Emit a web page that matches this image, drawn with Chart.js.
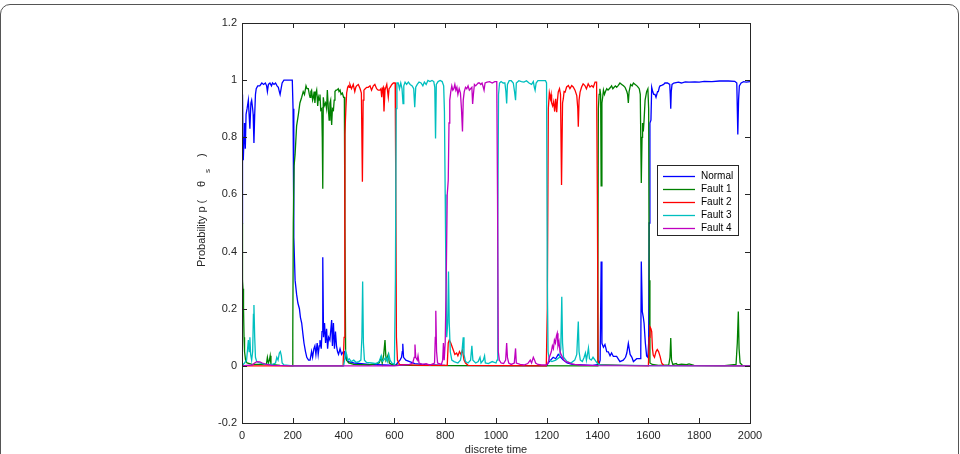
<!DOCTYPE html>
<html>
<head>
<meta charset="utf-8">
<script src="https://cdn.jsdelivr.net/npm/chart.js@4"></script>
<style>
  html, body { margin: 0; padding: 0; background: #fff; }
  #wrap { position: relative; width: 960px; height: 454px; overflow: hidden; }
  #frame { position: absolute; left: 0; top: 4px; width: 957px; height: 480px; border: 1.5px solid #555; border-radius: 10px; }
  canvas { position: absolute; left: 0; top: 0; }
</style>
</head>
<body>
<div id="wrap">
  <div id="frame"></div>
  <canvas id="probChart" width="960" height="454"></canvas>
</div>
<script>
// tick values
const xTicks = [0, 200, 400, 600, 800, 1000, 1200, 1400, 1600, 1800, 2000]
const yTicks = [-0.2, 0, 0.2, 0.4, 0.6, 0.8, 1, 1.2]

const seriesNames = ['Normal', 'Fault 1', 'Fault 2', 'Fault 3', 'Fault 4']
const seriesColors = ['#0000ff', '#008000', '#ff0000', '#00bfbf', '#bf00bf']

// [discrete time, probability]
const normal = [
  [0,0.5],[2,0.95],[5,0.72],[8,0.8],[10,0.85],[13,0.76],[16,0.88],[20,0.9],[25,0.93],[28,0.88],[31,0.83],[35,0.92],[38,0.93],[42,0.9],[44,0.88],[47,0.78],[50,0.88],[53,0.95],[56,0.97],[62,0.98],[70,0.98],[78,0.99],[85,0.985],[92,0.99],[97,0.98],[100,0.96],[104,0.985],[110,0.99],[116,0.98],[120,0.99],[126,0.985],[132,0.99],[138,0.98],[143,0.975],[147,0.96],[150,0.95],[154,0.97],[158,0.99],[165,1.0],[175,1.0],[185,1.0],[198,1.0],
  [201,0.9],[204,0.45],[209,0.3],[215,0.25],[220,0.22],[226,0.2],[230,0.17],[235,0.15],[240,0.11],[244,0.08],[250,0.05],[255,0.03],[262,0.02],[268,0.02],[274,0.05],[278,0.03],[283,0.06],[287,0.07],[291,0.04],[296,0.08],[300,0.04],[304,0.07],[307,0.09],[312,0.06],[315,0.12],[318,0.38],[321,0.1],[325,0.15],[329,0.08],[333,0.13],[337,0.06],[341,0.1],[346,0.09],[350,0.13],[353,0.16],[356,0.07],[360,0.15],[364,0.06],[368,0.12],[372,0.07],[376,0.05],[380,0.04],[386,0.06],[392,0.04],[399,0.05],[403,0.05],[407,0.03],[412,0.02],
  [420,0.015],[440,0.01],[470,0.008],[500,0.005],[560,0.003],[605,0.002],[612,0.01],[622,0.02],[628,0.03],[631,0.05],[633,0.077],[636,0.03],[645,0.02],[660,0.015],[680,0.008],[720,0.004],[800,0.002],[1000,0.001],[1200,0.001],
  [1205,0.01],[1215,0.02],[1225,0.03],[1235,0.025],[1245,0.04],[1255,0.03],[1265,0.02],[1280,0.01],[1300,0.005],[1380,0.002],[1405,0.005],[1410,0.02],[1414,0.365],[1417,0.079],[1423,0.065],[1429,0.075],[1436,0.05],[1442,0.049],[1449,0.035],[1455,0.045],[1462,0.033],[1475,0.033],[1488,0.015],[1501,0.02],[1510,0.03],[1515,0.045],[1521,0.079],[1528,0.04],[1535,0.03],[1541,0.015],[1554,0.025],[1567,0.025],[1570,0.05],[1572,0.365],[1576,0.19],[1580,0.17],[1583,0.149],[1588,0.08],[1593,0.035],[1598,0.03],
  [1601,0.08],[1603,0.5],[1606,0.85],[1610,0.86],[1613,0.975],[1617,0.96],[1621,0.95],[1626,0.95],[1630,0.94],[1633,0.94],[1636,0.96],[1639,0.96],[1643,0.975],[1646,0.98],[1652,0.982],[1660,0.985],[1665,0.99],[1675,0.99],[1684,0.985],[1686,0.95],[1688,0.9],[1690,0.96],[1693,0.985],[1700,0.99],[1718,0.993],[1730,0.99],[1745,0.994],[1760,0.993],[1783,0.994],[1800,0.993],[1820,0.996],[1850,0.995],[1880,0.997],[1915,0.997],[1940,0.996],[1948,0.99],[1952,0.81],[1955,0.93],[1958,0.98],[1965,0.99],[1975,0.995],[1985,0.993],[2000,0.995]
]

const fault1 = [
  [0,0.5],[2,0.3],[4,0.27],[6,0.2],[8,0.1],[10,0.05],[14,0.02],[20,0.01],[40,0.005],[96,0.005],[100,0.03],[104,0.01],[108,0.02],[111,0.035],[114,0.005],[150,0.002],[199,0.0],
  [200,0.12],[202,0.5],[205,0.7],[209,0.74],[215,0.84],[222,0.88],[228,0.92],[235,0.94],[241,0.96],[246,0.95],[252,0.98],[256,0.97],[261,0.97],[265,0.95],[268,0.94],[271,0.96],[274,0.965],[278,0.93],[281,0.94],[284,0.96],[287,0.92],[290,0.95],[294,0.965],[298,0.91],[301,0.94],[304,0.93],[307,0.95],[310,0.895],[314,0.9],[316,0.8],[318,0.62],[320,0.94],[324,0.91],[329,0.92],[333,0.9],[336,0.965],[340,0.9],[343,0.86],[346,0.92],[349,0.93],[351,0.88],[353,0.843],[356,0.9],[360,0.895],[363,0.93],[366,0.96],[370,0.965],[373,0.965],[379,0.97],[382,0.96],[386,0.965],[390,0.95],[395,0.955],[400,0.94],[403,0.94],[405,0.5],[408,0.05],
  [412,0.02],[420,0.01],[440,0.005],[500,0.003],[540,0.01],[548,0.03],[552,0.01],[558,0.04],[563,0.09],[567,0.02],[572,0.03],[576,0.04],[580,0.01],[590,0.005],[600,0.003],[650,0.002],[800,0.001],[1398,0.0],
  [1401,0.3],[1403,0.9],[1406,0.95],[1409,0.97],[1412,0.95],[1414,0.63],[1417,0.92],[1420,0.94],[1423,0.965],[1427,0.95],[1431,0.96],[1436,0.97],[1441,0.965],[1446,0.97],[1451,0.975],[1455,0.98],[1460,0.97],[1465,0.975],[1470,0.98],[1475,0.975],[1480,0.98],[1488,0.99],[1495,0.985],[1502,0.98],[1508,0.975],[1515,0.96],[1518,0.95],[1521,0.92],[1524,0.96],[1530,0.985],[1536,0.98],[1541,0.99],[1548,0.985],[1555,0.98],[1560,0.975],[1564,0.97],[1568,0.95],[1572,0.64],[1575,0.8],[1577,0.85],[1580,0.82],[1583,0.86],[1587,0.93],[1593,0.96],[1598,0.97],[1601,0.9],[1603,0.3],
  [1606,0.01],[1615,0.005],[1640,0.002],[1680,0.003],[1685,0.03],[1688,0.097],[1691,0.02],[1696,0.005],[1710,0.008],[1715,0.003],[1730,0.006],[1750,0.004],[1760,0.007],[1780,0.002],[1900,0.001],[1945,0.005],[1950,0.08],[1954,0.19],[1957,0.06],[1961,0.01],[1970,0.002],[2000,0.001]
]

const fault2 = [
  [0,0.0],[200,0.0],[398,0.0],
  [402,0.1],[405,0.81],[409,0.9],[412,0.955],[416,0.975],[419,0.98],[422,0.975],[425,0.985],[431,0.97],[438,0.985],[444,0.96],[448,0.975],[451,0.98],[458,0.985],[465,0.97],[470,0.955],[474,0.644],[477,0.93],[480,0.965],[485,0.97],[491,0.975],[497,0.975],[504,0.98],[510,0.965],[517,0.98],[523,0.985],[530,0.97],[536,0.965],[543,0.965],[547,0.97],[550,0.94],[553,0.97],[556,0.975],[559,0.89],[563,0.965],[570,0.985],[576,0.94],[579,0.97],[583,0.975],[590,0.985],[596,0.99],[603,0.99],[605,0.7],[608,0.1],
  [612,0.02],[620,0.005],[700,0.002],[808,0.002],[812,0.08],[816,0.09],[822,0.08],[830,0.06],[838,0.04],[845,0.045],[850,0.035],[856,0.05],[862,0.04],[868,0.055],[874,0.02],[880,0.01],[890,0.002],[1198,0.0],
  [1202,0.2],[1206,0.9],[1210,0.955],[1214,0.935],[1217,0.95],[1219,0.92],[1223,0.91],[1227,0.925],[1231,0.89],[1235,0.935],[1239,0.888],[1242,0.93],[1245,0.958],[1250,0.97],[1254,0.95],[1258,0.633],[1262,0.92],[1265,0.935],[1268,0.96],[1272,0.958],[1278,0.976],[1285,0.981],[1291,0.97],[1298,0.981],[1304,0.976],[1311,0.965],[1318,0.946],[1322,0.9],[1324,0.837],[1327,0.93],[1331,0.958],[1337,0.976],[1343,0.987],[1350,0.981],[1356,0.97],[1363,0.987],[1370,0.976],[1377,0.981],[1383,0.975],[1390,0.993],[1396,0.993],[1399,0.6],
  [1402,0.02],[1406,0.005],[1500,0.002],[1600,0.0],[1603,0.1],[1606,0.137],[1610,0.13],[1613,0.12],[1616,0.06],[1619,0.038],[1624,0.03],[1630,0.05],[1635,0.057],[1640,0.05],[1646,0.033],[1652,0.01],[1660,0.002],[2000,0.0]
]

const fault3 = [
  [0,0.0],[10,0.01],[18,0.02],[22,0.06],[25,0.09],[28,0.05],[31,0.1],[34,0.04],[38,0.02],[42,0.05],[45,0.18],[47,0.213],[50,0.1],[53,0.03],[58,0.015],[70,0.01],[90,0.005],[120,0.005],[132,0.01],[137,0.03],[142,0.02],[147,0.045],[151,0.05],[155,0.035],[158,0.01],[165,0.003],[200,0.0],[400,0.0],
  [404,0.02],[408,0.05],[412,0.04],[416,0.02],[422,0.025],[430,0.015],[440,0.02],[450,0.012],[460,0.015],[468,0.02],[472,0.1],[475,0.295],[478,0.08],[482,0.02],[490,0.012],[510,0.01],[530,0.008],[540,0.015],[548,0.035],[552,0.015],[558,0.02],[566,0.03],[572,0.015],[578,0.04],[583,0.02],[590,0.01],[600,0.005],
  [604,0.3],[607,0.9],[610,0.99],[615,0.99],[620,0.97],[625,0.99],[630,0.97],[634,0.918],[637,0.98],[642,0.993],[648,0.985],[655,0.993],[662,0.985],[670,0.98],[676,0.97],[680,0.905],[684,0.975],[690,0.985],[697,0.993],[705,0.99],[712,0.98],[718,0.993],[725,0.985],[732,0.999],[740,0.995],[748,0.999],[755,0.995],[759,0.975],[762,0.796],[765,0.985],[772,0.995],[780,0.999],[788,0.995],[794,0.98],[797,0.89],[800,0.6],
  [803,0.3],[806,0.1],[810,0.15],[813,0.33],[816,0.15],[820,0.05],[826,0.02],[835,0.015],[850,0.01],[860,0.02],[866,0.05],[871,0.1],[874,0.04],[880,0.015],[890,0.01],[900,0.02],[905,0.07],[909,0.02],[920,0.01],[930,0.015],[937,0.03],[941,0.01],[950,0.02],[955,0.035],[958,0.01],[970,0.008],[985,0.015],[1000,0.01],[1004,0.02],
  [1007,0.5],[1010,0.95],[1014,0.99],[1020,0.995],[1028,0.99],[1035,0.99],[1039,0.96],[1042,0.918],[1045,0.985],[1052,0.998],[1060,0.998],[1068,0.99],[1073,0.96],[1077,0.93],[1080,0.99],[1090,0.998],[1100,0.995],[1110,0.993],[1120,0.998],[1130,0.99],[1140,0.985],[1147,0.995],[1151,0.975],[1154,0.965],[1158,0.99],[1165,0.998],[1175,0.998],[1185,0.998],[1195,0.998],[1199,0.99],[1202,0.3],
  [1205,0.05],[1210,0.02],[1220,0.015],[1235,0.02],[1250,0.03],[1255,0.06],[1259,0.242],[1262,0.08],[1266,0.03],[1280,0.015],[1295,0.01],[1310,0.02],[1318,0.04],[1321,0.1],[1324,0.155],[1327,0.05],[1332,0.02],[1340,0.015],[1347,0.03],[1352,0.045],[1356,0.02],[1360,0.04],[1364,0.062],[1368,0.025],[1375,0.02],[1382,0.03],[1390,0.02],[1398,0.01],[1410,0.003],[1600,0.001],[2000,0.0]
]

const fault4 = [
  [0,0.0],[40,0.003],[50,0.01],[58,0.015],[70,0.014],[80,0.01],[95,0.005],[120,0.002],[200,0.0],[600,0.0],
  [620,0.002],[660,0.005],[672,0.01],[678,0.03],[681,0.075],[684,0.03],[690,0.02],[693,0.035],[697,0.01],[710,0.005],[725,0.008],[740,0.003],[758,0.01],[761,0.1],[763,0.193],[766,0.05],[770,0.01],[785,0.005],[790,0.02],[793,0.08],[796,0.02],[800,0.08],
  [804,0.3],[808,0.6],[812,0.65],[815,0.85],[818,0.93],[822,0.96],[826,0.98],[830,0.965],[834,0.97],[838,0.985],[842,0.965],[846,0.975],[850,0.95],[855,0.97],[860,0.955],[864,0.9],[868,0.82],[871,0.93],[875,0.96],[880,0.975],[885,0.97],[890,0.98],[895,0.965],[900,0.97],[905,0.975],[908,0.917],[911,0.95],[915,0.985],[920,0.98],[925,0.985],[930,0.99],[935,0.99],[940,0.985],[945,0.99],[950,0.975],[953,0.965],[957,0.99],[965,0.993],[975,0.995],[985,0.99],[995,0.995],[1003,0.995],[1006,0.6],
  [1009,0.05],[1013,0.02],[1020,0.01],[1030,0.008],[1038,0.02],[1042,0.08],[1045,0.03],[1050,0.01],[1060,0.005],[1072,0.01],[1077,0.061],[1080,0.01],[1095,0.005],[1110,0.003],[1125,0.008],[1135,0.02],[1140,0.01],[1147,0.03],[1152,0.02],[1156,0.01],[1165,0.005],[1180,0.003],[1198,0.003],
  [1205,0.01],[1210,0.03],[1214,0.04],[1218,0.05],[1222,0.07],[1226,0.06],[1230,0.09],[1234,0.08],[1238,0.105],[1241,0.114],[1244,0.07],[1248,0.085],[1252,0.05],[1256,0.04],[1262,0.03],[1268,0.02],[1275,0.015],[1285,0.012],[1295,0.008],[1310,0.005],[1330,0.003],[1360,0.002],[1400,0.001],[2000,0.0]
]

const seriesData = [normal, fault1, fault2, fault3, fault4]

const axisColor = '#262626'
const fontFamily = '"Liberation Sans", Arial, Helvetica, sans-serif'

// box, inner ticks on all sides, legend and the y title
const matlabLook = {
  id: 'matlabLook',
  afterDraw(chart) {
    const { ctx, chartArea: a, scales: { x, y } } = chart
    ctx.save()
    ctx.strokeStyle = axisColor
    ctx.lineWidth = 1
    ctx.beginPath()
    x.ticks.forEach(t => {
      const px = Math.round(x.getPixelForValue(t.value)) + 0.5
      ctx.moveTo(px, a.bottom); ctx.lineTo(px, a.bottom - 5)
      ctx.moveTo(px, a.top); ctx.lineTo(px, a.top + 5)
    })
    y.ticks.forEach(t => {
      const py = Math.round(y.getPixelForValue(t.value)) + 0.5
      ctx.moveTo(a.left, py); ctx.lineTo(a.left + 5, py)
      ctx.moveTo(a.right, py); ctx.lineTo(a.right - 5, py)
    })
    ctx.stroke()
    ctx.strokeRect(Math.round(a.left) + 0.5, Math.round(a.top) + 0.5,
      Math.round(a.right - a.left), Math.round(a.bottom - a.top))

    // legend
    const lx = 657.5, ly = 165.5, lw = 81, lh = 70
    ctx.fillStyle = '#fff'
    ctx.fillRect(lx, ly, lw, lh)
    ctx.strokeRect(lx, ly, lw, lh)
    ctx.font = '10px ' + fontFamily
    ctx.textBaseline = 'middle'
    ctx.textAlign = 'left'
    chart.data.datasets.forEach((ds, i) => {
      const ry = Math.round(176 + i * 13.1) + 0.5
      ctx.strokeStyle = ds.borderColor
      ctx.lineWidth = 1.3
      ctx.beginPath()
      ctx.moveTo(663, ry); ctx.lineTo(695, ry)
      ctx.stroke()
      ctx.fillStyle = '#000'
      ctx.fillText(ds.label, 701, ry)
    })

    // y axis title with subscript
    ctx.translate(205, 267)
    ctx.rotate(-Math.PI / 2)
    ctx.fillStyle = axisColor
    ctx.textBaseline = 'alphabetic'
    ctx.font = '11px ' + fontFamily
    ctx.fillText('Probability p (', 0, 0)
    ctx.fillText('\u03b8', 80, 0)
    ctx.font = '8px ' + fontFamily
    ctx.fillText('s', 94, 5)
    ctx.font = '11px ' + fontFamily
    ctx.fillText(')', 110, 0)
    ctx.restore()
  }
}

new Chart(document.getElementById('probChart'), {
  type: 'line',
  data: {
    datasets: seriesNames.map((name, i) => ({
      label: name,
      data: seriesData[i],
      borderColor: seriesColors[i],
      borderWidth: 1.3,
      pointRadius: 0,
      tension: 0,
      fill: false,
      order: seriesNames.length - i,
    })),
  },
  options: {
    responsive: false,
    animation: false,
    events: [],
    layout: { padding: { top: 23, right: 210, left: 0, bottom: 0 } },
    plugins: { legend: { display: false }, tooltip: { enabled: false } },
    scales: {
      x: {
        type: 'linear',
        min: 0,
        max: 2000,
        afterBuildTicks: s => { s.ticks = xTicks.map(v => ({ value: v })) },
        afterFit: s => { s.height = 31 },
        border: { display: false },
        grid: { drawOnChartArea: false, drawTicks: false },
        ticks: {
          padding: 6,
          color: axisColor,
          font: { size: 11, family: fontFamily },
          callback: v => String(v),
        },
        title: {
          display: true,
          text: 'discrete time',
          color: axisColor,
          font: { size: 11, family: fontFamily, lineHeight: 1 },
          padding: { top: 0, bottom: -1 },
        },
      },
      y: {
        type: 'linear',
        min: -0.2,
        max: 1.2,
        afterBuildTicks: s => { s.ticks = yTicks.map(v => ({ value: v })) },
        afterFit: s => { s.width = 242 },
        border: { display: false },
        grid: { drawOnChartArea: false, drawTicks: false },
        ticks: {
          padding: 5,
          color: axisColor,
          font: { size: 11, family: fontFamily },
          callback: v => String(Math.round(v * 10) / 10),
        },
      },
    },
  },
  plugins: [matlabLook],
})
</script>
</body>
</html>
